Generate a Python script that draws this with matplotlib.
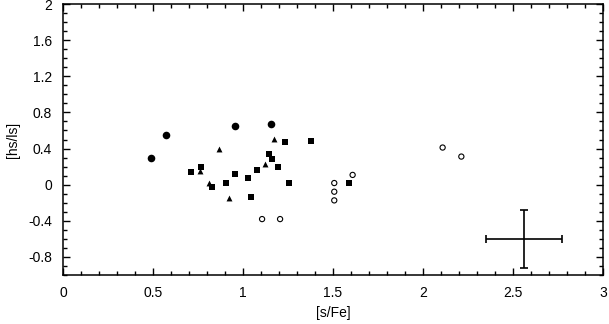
import matplotlib
matplotlib.use("Agg")
import matplotlib.pyplot as plt
from matplotlib.ticker import MultipleLocator

plt.rcParams['font.family'] = ['Liberation Sans', 'DejaVu Sans']

# filled circles
circ_x = [0.49, 0.572, 0.954, 1.156]
circ_y = [0.30, 0.552, 0.65, 0.674]

# filled squares
sq_x = [0.713, 0.765, 0.83, 0.905, 0.954, 1.028, 1.043, 1.076, 1.143,
        1.159, 1.193, 1.233, 1.254, 1.378, 1.589]
sq_y = [0.14, 0.20, -0.03, 0.014, 0.115, 0.078, -0.133, 0.167, 0.34,
        0.289, 0.20, 0.467, 0.019, 0.481, 0.018]

# filled triangles
tri_x = [0.763, 0.81, 0.865, 0.92, 1.124, 1.17]
tri_y = [0.15, 0.02, 0.40, -0.15, 0.233, 0.51]

# open symbols
open_x = [1.507, 1.507, 1.507, 2.109, 1.106, 1.206, 1.609, 2.213]
open_y = [0.018, -0.078, -0.174, 0.411, -0.381, -0.381, 0.108, 0.311]

# typical error bar
err_x, err_y = [2.56], [-0.6]
err_dx, err_dy = [0.21], [0.32]

xticks = [0, 0.5, 1, 1.5, 2, 2.5, 3]
xtick_labels = ['0', '0.5', '1', '1.5', '2', '2.5', '3']
yticks = [-0.8, -0.4, 0, 0.4, 0.8, 1.2, 1.6, 2]
ytick_labels = ['-0.8', '-0.4', '0', '0.4', '0.8', '1.2', '1.6', '2']

fig = plt.figure(figsize=(6.09, 3.24), dpi=100)
ax = fig.add_axes([63 / 609, 49 / 324, 540 / 609, 271 / 324])

ax.scatter(circ_x, circ_y, s=30, marker='o', color='black', linewidths=0)
ax.scatter(sq_x, sq_y, s=14, marker='s', color='black', linewidths=0)
ax.scatter(tri_x, tri_y, s=18, marker='^', color='black', linewidths=0)
ax.scatter(open_x, open_y, s=14, marker='o', facecolors='none',
           edgecolors='black', linewidths=0.8)
ax.errorbar(err_x, err_y, xerr=err_dx, yerr=err_dy, fmt='none',
            ecolor='black', elinewidth=1.2, capsize=3, capthick=1.2)

ax.set_xlim(0, 3)
ax.set_ylim(-1, 2)
ax.set_xticks(xticks)
ax.set_xticklabels(xtick_labels)
ax.set_yticks(yticks)
ax.set_yticklabels(ytick_labels)
ax.xaxis.set_minor_locator(MultipleLocator(0.1))
ax.yaxis.set_minor_locator(MultipleLocator(0.1))
ax.tick_params(which='both', direction='in', top=True, right=True,
               labelsize=10, width=1)
ax.tick_params(which='major', length=5, pad=8)
ax.tick_params(which='minor', length=3)
for sp in ax.spines.values():
    sp.set_linewidth(1.1)

ax.set_xlabel('[s/Fe]', fontsize=10, labelpad=4)
ax.set_ylabel('[hs/ls]', fontsize=10, labelpad=6)

fig.savefig('out.png', dpi=100)
